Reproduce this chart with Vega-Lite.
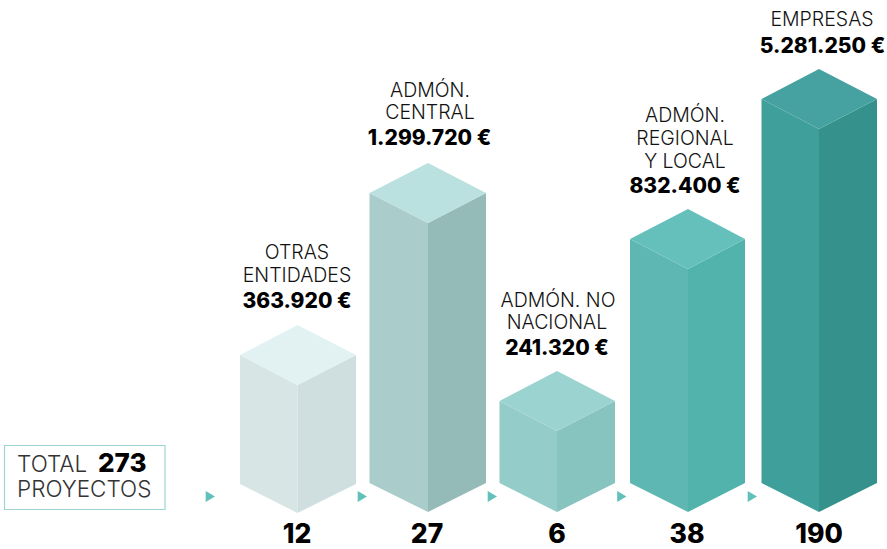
{"$schema":"https://vega.github.io/schema/vega-lite/v6.json","width":887,"height":549,"padding":0,"autosize":{"type":"none"},"background":"white","config":{"view":{"stroke":null}},
"datasets":{"faces":[
{"k":"1L","x":240,"y":355,"y2":484},{"k":"1L","x":297.5,"y":385,"y2":513},
{"k":"1R","x":297.5,"y":385,"y2":513},{"k":"1R","x":356,"y":355,"y2":484},
{"k":"1T","x":240,"y":355,"y2":355},{"k":"1T","x":297.5,"y":325,"y2":385},{"k":"1T","x":356,"y":355,"y2":355},
{"k":"2L","x":369.5,"y":193,"y2":483},{"k":"2L","x":428,"y":223,"y2":512},
{"k":"2R","x":428,"y":223,"y2":512},{"k":"2R","x":486,"y":193,"y2":483},
{"k":"2T","x":369.5,"y":193,"y2":193},{"k":"2T","x":428,"y":163,"y2":223},{"k":"2T","x":486,"y":193,"y2":193},
{"k":"3L","x":499.5,"y":401,"y2":483},{"k":"3L","x":557,"y":431,"y2":512},
{"k":"3R","x":557,"y":431,"y2":512},{"k":"3R","x":615,"y":401,"y2":483},
{"k":"3T","x":499.5,"y":401,"y2":401},{"k":"3T","x":557,"y":371,"y2":431},{"k":"3T","x":615,"y":401,"y2":401},
{"k":"4L","x":630,"y":239,"y2":483},{"k":"4L","x":688,"y":269,"y2":512},
{"k":"4R","x":688,"y":269,"y2":512},{"k":"4R","x":745,"y":239,"y2":483},
{"k":"4T","x":630,"y":239,"y2":239},{"k":"4T","x":688,"y":209,"y2":269},{"k":"4T","x":745,"y":239,"y2":239},
{"k":"5L","x":761.5,"y":99,"y2":483},{"k":"5L","x":819,"y":129,"y2":512},
{"k":"5R","x":819,"y":129,"y2":512},{"k":"5R","x":877,"y":99,"y2":483},
{"k":"5T","x":761.5,"y":99,"y2":99},{"k":"5T","x":819,"y":69,"y2":129},{"k":"5T","x":877,"y":99,"y2":99}
]},
"layer":[
{"data":{"values":[{"x":4.5,"x2":165,"y":445.5,"y2":509.5}]},"mark":{"type":"rect","fill":"white","stroke":"#9dd4d0","strokeWidth":1.2},"encoding":{"x":{"field":"x","type":"quantitative","scale":{"domain":[0,887]},"axis":null},"x2":{"field":"x2"},"y":{"field":"y","type":"quantitative","scale":{"domain":[549,0]},"axis":null},"y2":{"field":"y2"}}},
{"data":{"name":"faces"},"mark":{"type":"area","interpolate":"linear","orient":"vertical"},"encoding":{"x":{"field":"x","type":"quantitative","scale":{"domain":[0,887]},"axis":null},"y":{"field":"y","type":"quantitative","stack":null,"scale":{"domain":[549,0]},"axis":null},"y2":{"field":"y2"},"color":{"field":"k","type":"nominal","legend":null,"scale":{"domain":["1L","1R","1T","2L","2R","2T","3L","3R","3T","4L","4R","4T","5L","5R","5T"],"range":["#d8e5e5","#cfdfdf","#e2f2f2","#aacccb","#95bbb8","#bae0df","#93ccc8","#87c3bf","#9ad3d0","#5fb7b4","#52b3ad","#65c0bc","#3f9f9a","#34918c","#46a2a0"]}}}},
{"data":{"values":[{"x":209.5,"y":496.5},{"x":361.5,"y":496.5},{"x":491.5,"y":496.5},{"x":621,"y":496.5},{"x":751.5,"y":496.5}]},"mark":{"type":"point","shape":"M-0.7,-1L1,0L-0.7,1Z","filled":true,"fill":"#62c0bb","opacity":1,"size":120},"encoding":{"x":{"field":"x","type":"quantitative","scale":{"domain":[0,887]},"axis":null},"y":{"field":"y","type":"quantitative","scale":{"domain":[549,0]},"axis":null}}},
{"data":{"values":[
{"t":"OTRAS","x":297,"y":259},{"t":"ENTIDADES","x":297,"y":282},
{"t":"ADMÓN.","x":430,"y":97},{"t":"CENTRAL","x":430,"y":119},
{"t":"ADMÓN. NO","x":558,"y":307},{"t":"NACIONAL","x":557,"y":329},
{"t":"ADMÓN.","x":685,"y":122},{"t":"REGIONAL","x":685,"y":145},{"t":"Y LOCAL","x":685,"y":168},
{"t":"EMPRESAS","x":822,"y":26}]},
"mark":{"type":"text","font":"Inter","fontSize":19.5,"fontWeight":300,"fill":"#111111","align":"center","baseline":"alphabetic"},"encoding":{"x":{"field":"x","type":"quantitative","scale":{"domain":[0,887]},"axis":null},"y":{"field":"y","type":"quantitative","scale":{"domain":[549,0]},"axis":null},"text":{"field":"t"}}},
{"data":{"values":[
{"t":"363.920 €","x":297,"y":308},{"t":"1.299.720 €","x":429.5,"y":145},{"t":"241.320 €","x":557,"y":355},{"t":"832.400 €","x":685,"y":193},{"t":"5.281.250 €","x":822.5,"y":53}]},
"mark":{"type":"text","font":"Inter","fontSize":21,"fontWeight":800,"fill":"#000000","align":"center","baseline":"alphabetic"},"encoding":{"x":{"field":"x","type":"quantitative","scale":{"domain":[0,887]},"axis":null},"y":{"field":"y","type":"quantitative","scale":{"domain":[549,0]},"axis":null},"text":{"field":"t"}}},
{"data":{"values":[
{"t":"12","x":297,"y":543},{"t":"27","x":427,"y":543},{"t":"6","x":557,"y":543},{"t":"38","x":687,"y":543},{"t":"190","x":819,"y":543}]},
"mark":{"type":"text","font":"Inter","fontSize":26.5,"fontWeight":800,"fill":"#000000","align":"center","baseline":"alphabetic"},"encoding":{"x":{"field":"x","type":"quantitative","scale":{"domain":[0,887]},"axis":null},"y":{"field":"y","type":"quantitative","scale":{"domain":[549,0]},"axis":null},"text":{"field":"t"}}},
{"data":{"values":[{"t":"TOTAL","x":17,"y":472},{"t":"PROYECTOS","x":17,"y":497}]},
"mark":{"type":"text","font":"Inter","fontSize":22.5,"fontWeight":300,"fill":"#333333","align":"left","baseline":"alphabetic"},"encoding":{"x":{"field":"x","type":"quantitative","scale":{"domain":[0,887]},"axis":null},"y":{"field":"y","type":"quantitative","scale":{"domain":[549,0]},"axis":null},"text":{"field":"t"}}},
{"data":{"values":[{"t":"273","x":98,"y":472}]},
"mark":{"type":"text","font":"Inter","fontSize":26,"fontWeight":800,"fill":"#000000","align":"left","baseline":"alphabetic"},"encoding":{"x":{"field":"x","type":"quantitative","scale":{"domain":[0,887]},"axis":null},"y":{"field":"y","type":"quantitative","scale":{"domain":[549,0]},"axis":null},"text":{"field":"t"}}}
]}
